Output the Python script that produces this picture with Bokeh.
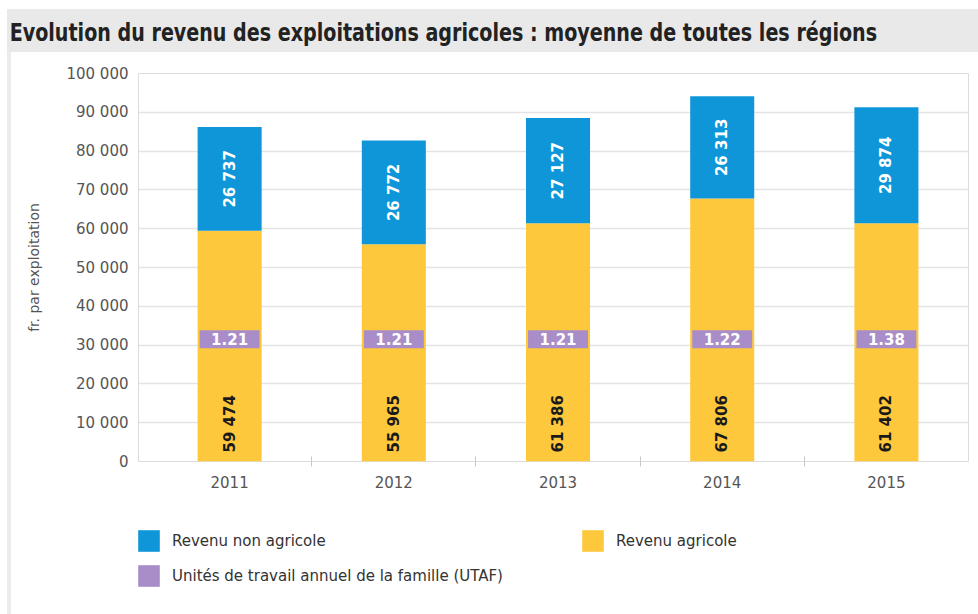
import numpy as np
from bokeh.plotting import figure
from bokeh.models import (ColumnDataSource, Range1d, FixedTicker, CustomJSTickFormatter,
                          Legend, LegendItem, Div)
from bokeh.layouts import column, row
from bokeh.core.properties import value
from bokeh.embed import file_html
from bokeh.resources import INLINE

# ---------------- data ----------------
years = ["2011", "2012", "2013", "2014", "2015"]
revenu_agricole = [59474, 55965, 61386, 67806, 61402]
revenu_non_agricole = [26737, 26772, 27127, 26313, 29874]
utaf = [1.21, 1.21, 1.21, 1.22, 1.38]
y_ticks = [0, 10000, 20000, 30000, 40000, 50000, 60000, 70000, 80000, 90000, 100000]

title_text = "Evolution du revenu des exploitations agricoles : moyenne de toutes les régions"
y_label = "fr. par exploitation"
label_non_agricole = "Revenu non agricole"
label_agricole = "Revenu agricole"
label_utaf = "Unités de travail annuel de la famille (UTAF)"

# ---------------- style ----------------
BLUE = "#0f96d9"
YELLOW = "#fdc83c"
PURPLE = "#a98dc8"
GRID = "#e4e4e4"
FONT = "DejaVu Sans"
UTAF_Y = 31500  # vertical position of the UTAF badge (display only)


def fmt(v):
    return f"{v:,}".replace(",", " ")


x = [i + 0.5 for i in range(len(years))]
total = [a + b for a, b in zip(revenu_agricole, revenu_non_agricole)]
mid = [a + b / 2 for a, b in zip(revenu_agricole, revenu_non_agricole)]

src = ColumnDataSource(dict(
    x=x,
    agr=revenu_agricole,
    nonagr=revenu_non_agricole,
    total=total,
    mid=mid,
    agr_lbl=[fmt(v) for v in revenu_agricole],
    nonagr_lbl=[fmt(v) for v in revenu_non_agricole],
    utaf_lbl=[f"{u:.2f}" for u in utaf],
    utaf_y=[UTAF_Y] * len(years),
))

# ---------------- main chart ----------------
p = figure(width=967, height=448,
           x_range=Range1d(-0.055, len(years)), y_range=Range1d(0, 100000),
           output_backend="svg", toolbar_location=None,
           min_border_left=127, min_border_right=10, min_border_top=21,
           min_border_bottom=39, margin=0)
p.background_fill_color = "white"
p.border_fill_color = "white"
p.outline_line_color = "#dcdcdc"
p.outline_line_width = 1

r_agr = p.vbar(x="x", bottom=0, top="agr", width=0.39, source=src,
               fill_color=YELLOW, line_color=None)
r_non = p.vbar(x="x", bottom="agr", top="total", width=0.39, source=src,
               fill_color=BLUE, line_color=None)
r_utaf = p.rect(x="x", y="utaf_y", width=0.365, height=18, height_units="screen",
                source=src, fill_color=PURPLE, line_color=None)

p.text(x="x", y="mid", text="nonagr_lbl", source=src, angle=np.pi / 2,
       text_align="center", text_baseline="middle", text_color="white",
       text_font=value(FONT), text_font_style="bold", text_font_size="15px")
p.text(x="x", y=0, text="agr_lbl", source=src, angle=np.pi / 2, y_offset=-9,
       text_align="left", text_baseline="middle", text_color="#1a1a1a",
       text_font=value(FONT), text_font_style="bold", text_font_size="15px")
p.text(x="x", y="utaf_y", text="utaf_lbl", source=src,
       text_align="center", text_baseline="middle", text_color="white",
       text_font=value(FONT), text_font_style="bold", text_font_size="15px")

p.xaxis.ticker = FixedTicker(ticks=x, minor_ticks=[1, 2, 3, 4])
p.xaxis.formatter = CustomJSTickFormatter(args=dict(years=years),
                                          code="return years[Math.floor(tick)];")
p.xaxis.major_tick_line_color = None
p.xaxis.major_tick_out = 0
p.xaxis.major_tick_in = 0
p.xaxis.minor_tick_line_color = "#c8c8c8"
p.xaxis.minor_tick_in = 5
p.xaxis.minor_tick_out = 5
p.xaxis.axis_line_color = None
p.xaxis.major_label_standoff = 9
p.xaxis.major_label_text_font = FONT
p.xaxis.major_label_text_font_size = "15px"
p.xaxis.major_label_text_color = "#555555"

p.yaxis.ticker = FixedTicker(ticks=y_ticks)
p.yaxis.formatter = CustomJSTickFormatter(
    code="return tick.toFixed(0).replace(/\\B(?=(\\d{3})+(?!\\d))/g, ' ');")
p.yaxis.major_tick_line_color = None
p.yaxis.major_tick_out = 0
p.yaxis.major_tick_in = 0
p.yaxis.minor_tick_line_color = None
p.yaxis.axis_line_color = None
p.yaxis.major_label_standoff = 10
p.yaxis.major_label_text_font = FONT
p.yaxis.major_label_text_font_size = "15px"
p.yaxis.major_label_text_color = "#555555"
p.yaxis.axis_label = y_label
p.yaxis.axis_label_text_font = FONT
p.yaxis.axis_label_text_font_style = "normal"
p.yaxis.axis_label_text_font_size = "14px"
p.yaxis.axis_label_text_color = "#555555"
p.yaxis.axis_label_standoff = 21

p.xgrid.grid_line_color = None
p.ygrid.ticker = FixedTicker(ticks=y_ticks)
p.ygrid.grid_line_color = GRID
p.ygrid.grid_line_width = 1.5

# ---------------- legend strip ----------------
lg = figure(width=967, height=114, output_backend="svg", toolbar_location=None,
            x_axis_type=None, y_axis_type=None,
            min_border_left=127, min_border_right=10, min_border_top=0, min_border_bottom=0,
            margin=0)
lg.outline_line_color = None
lg.background_fill_color = None
lg.border_fill_color = "white"
lg.xgrid.grid_line_color = None
lg.ygrid.grid_line_color = None
lg_non = lg.vbar(x="x", top="nonagr", width=0.39, source=src,
                 fill_color=BLUE, line_color=None, visible=False)
lg_agr = lg.vbar(x="x", top="agr", width=0.39, source=src,
                 fill_color=YELLOW, line_color=None, visible=False)
lg_utaf = lg.vbar(x="x", top="utaf_y", width=0.39, source=src,
                  fill_color=PURPLE, line_color=None, visible=False)

legend = Legend(items=[
    LegendItem(label=label_non_agricole, renderers=[lg_non]),
    LegendItem(label=label_agricole, renderers=[lg_agr]),
    LegendItem(label=label_utaf, renderers=[lg_utaf]),
], location=(-3, 25), orientation="horizontal", ncols=2)
legend.padding = 0
legend.margin = 0
legend.border_line_color = None
legend.background_fill_alpha = 0
legend.glyph_width = 27
legend.glyph_height = 27
legend.label_height = 27
legend.label_standoff = 10
legend.spacing = 8
legend.label_width = 399
legend.label_text_font = FONT
legend.label_text_font_size = "15px"
legend.label_text_color = "#333333"
lg.add_layout(legend, "center")

# ---------------- page frame ----------------
title = Div(text=(f'<div style="font-family: \'Liberation Sans Narrow\', \'DejaVu Sans Condensed\', Roboto, sans-serif;'
                  f'font-weight: bold; font-size: 24px; color: #222; line-height: 43px; height: 43px;'
                  f'padding-top: 3px; padding-left: 3px; box-sizing: border-box;'
                  f'white-space: nowrap; transform: scaleX(0.885); transform-origin: left center;">{title_text}</div>'),
            width=971, height=43, margin=0,
            styles={"background-color": "#e9e9e9"})

strip = Div(text="", width=4, height=562, margin=0, styles={"background-color": "#ececec"})
inner = column(p, lg, margin=0, styles={"background-color": "white"})
body = row(strip, inner, margin=0)

layout = column(title, body, margin=(9, 0, 0, 7))

open("out.html", "w").write(file_html(layout, INLINE))
